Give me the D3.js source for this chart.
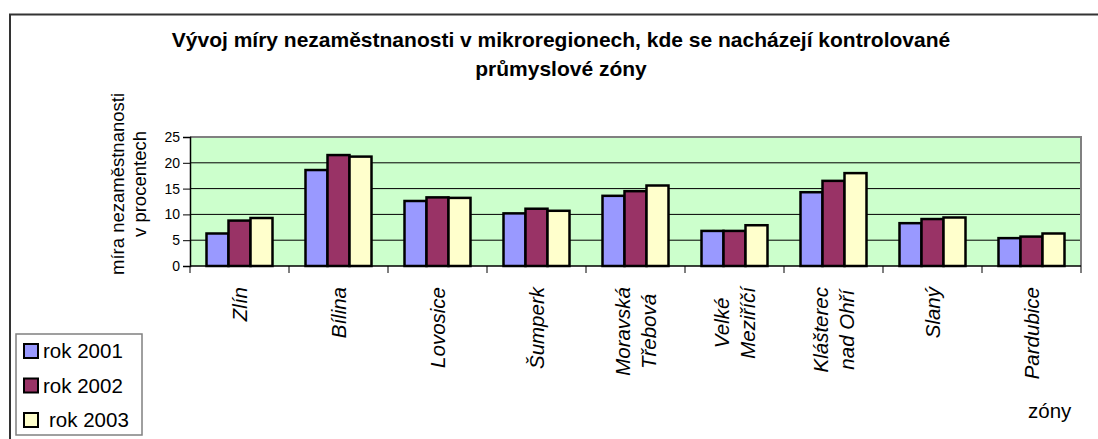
<!DOCTYPE html>
<html>
<head>
<meta charset="utf-8">
<script src="https://cdn.jsdelivr.net/npm/d3@7"></script>
<style>
  body { margin: 0; background: #fff; }
  #chart { width: 1098px; height: 439px; }
  text { font-family: "Liberation Sans", Arial, sans-serif; fill: #000; }
</style>
</head>
<body>
<div id="chart"></div>
<script>
// DATA

const zones = ["Zlín", "Bílina", "Lovosice", "Šumperk", "Moravská Třebová",
    "Velké Meziříčí", "Klášterec nad Ohří", "Slaný", "Pardubice"];
// how each zone label is broken into lines
const zoneLines = [["Zlín"], ["Bílina"], ["Lovosice"], ["Šumperk"], ["Moravská", "Třebová"],
    ["Velké", "Meziříčí"], ["Klášterec", "nad Ohří"], ["Slaný"], ["Pardubice"]];

const years = ["rok 2001", "rok 2002", "rok 2003"];
const rok2001 = [6.3, 18.6, 12.6, 10.2, 13.6, 6.8, 14.3, 8.3, 5.4];
const rok2002 = [8.8, 21.5, 13.3, 11.1, 14.5, 6.8, 16.5, 9.1, 5.7];
const rok2003 = [9.3, 21.2, 13.2, 10.7, 15.6, 7.9, 18.0, 9.4, 6.3];
const yTicks = [0, 5, 10, 15, 20, 25];

const colors = ["#9999ff", "#993366", "#ffffcc"];

// SVG CANVAS

const width = 1098;
const height = 439;
const margin = {top: 137, left: 190, right: 17, bottom: 173};

const svg = d3.select("#chart")
    .append("svg")
    .attr("width", width)
    .attr("height", height);

// outer chart frame (runs off the right and bottom edges)
svg.append("rect")
    .attr("x", 10).attr("y", 14.5)
    .attr("width", 1200).attr("height", 600)
    .attr("fill", "none")
    .attr("stroke", "#333")
    .attr("stroke-width", 2);

// SCALES

const series = [rok2001, rok2002, rok2003];
const table = zones.map(function(z, i) {
    return {zone: z, lines: zoneLines[i], values: series.map(function(s, j) { return {year: years[j], value: s[i]}; })};
});

const x0 = d3.scaleBand()
    .domain(zones)
    .range([margin.left, width - margin.right])
    .paddingInner(1/3)
    .paddingOuter(1/6);

const x1 = d3.scaleBand()
    .domain(years)
    .range([0, x0.bandwidth()]);

const yScale = d3.scaleLinear()
    .domain([0, 25])
    .range([height - margin.bottom, margin.top]);

const colorScale = d3.scaleOrdinal().domain(years).range(colors);

const plotL = margin.left, plotR = width - margin.right;
const plotT = margin.top, plotB = height - margin.bottom;

// PLOT AREA

svg.append("rect")
    .attr("x", plotL).attr("y", plotT)
    .attr("width", plotR - plotL).attr("height", plotB - plotT)
    .attr("fill", "#ccffcc");

// GRIDLINES

svg.append("g")
    .selectAll("line")
    .data(yTicks.filter(function(d) { return d > 0 && d < 25; }))
    .enter()
    .append("line")
        .attr("x1", plotL).attr("x2", plotR)
        .attr("y1", function(d) { return yScale(d); })
        .attr("y2", function(d) { return yScale(d); })
        .attr("stroke", "#000")
        .attr("stroke-width", 1);

// plot border top/right in gray
svg.append("path")
    .attr("d", `M${plotL},${plotT}H${plotR}V${plotB}`)
    .attr("fill", "none")
    .attr("stroke", "#808080")
    .attr("stroke-width", 2);

// BARS

const groups = svg.append("g")
    .selectAll("g")
    .data(table)
    .enter()
    .append("g")
        .attr("transform", function(d) { return `translate(${x0(d.zone)},0)`; });

groups.selectAll("rect")
    .data(function(d) { return d.values; })
    .enter()
    .append("rect")
        .attr("x", function(d) { return x1(d.year); })
        .attr("y", function(d) { return yScale(d.value); })
        .attr("width", x1.bandwidth())
        .attr("height", function(d) { return yScale(0) - yScale(d.value); })
        .attr("fill", function(d) { return colorScale(d.year); })
        .attr("stroke", "#000")
        .attr("stroke-width", 2.5);

// AXES

const yAxis = svg.append("g")
    .attr("transform", `translate(${plotL},0)`)
    .call(d3.axisLeft(yScale).tickValues(yTicks).tickSize(7).tickPadding(3));

yAxis.select(".domain").attr("stroke", "#000").attr("stroke-width", 1.5);
yAxis.selectAll("text")
    .style("font-family", "'Liberation Sans', Arial, sans-serif")
    .style("font-size", "14px");

// x axis: baseline and tick marks at band boundaries
const xAxis = svg.append("g");
xAxis.append("line")
    .attr("x1", plotL).attr("x2", plotR)
    .attr("y1", plotB).attr("y2", plotB)
    .attr("stroke", "#000")
    .attr("stroke-width", 1.5);

const bounds = zones.map(function(z) { return x0(z) - x0.step() * x0.paddingInner() / 2; })
    .concat([plotR]);
xAxis.selectAll(".tick")
    .data(bounds)
    .enter()
    .append("line")
        .attr("x1", function(d) { return d; })
        .attr("x2", function(d) { return d; })
        .attr("y1", plotB)
        .attr("y2", plotB + 7)
        .attr("stroke", "#000")
        .attr("stroke-width", 1);

// ZONE LABELS (rotated, top-aligned under the axis)

const labelTop = 287;
const lineGap = 26;

table.forEach(function(d) {
    const cx = x0(d.zone) + x0.bandwidth() / 2;
    const g = svg.append("g");
    const n = d.lines.length;
    const texts = d.lines.map(function(line) {
        return g.append("text")
            .attr("text-anchor", "middle")
            .style("font-size", "20.5px")
            .style("font-style", "italic")
            .text(line);
    });
    const maxLen = d3.max(texts, function(t) { return t.node().getComputedTextLength(); });
    const cy = labelTop + maxLen / 2;
    texts.forEach(function(t, i) {
        const bx = cx + 7 + (i - (n - 1) / 2) * lineGap;
        t.attr("transform", `translate(${bx},${cy}) rotate(-90)`);
    });
});

// TITLE

const title = ["Vývoj míry nezaměstnanosti v mikroregionech, kde se nacházejí kontrolované",
    "průmyslové zóny"];
svg.append("g")
    .selectAll("text")
    .data(title)
    .enter()
    .append("text")
        .attr("x", 561)
        .attr("y", function(d, i) { return 47 + i * 29; })
        .attr("text-anchor", "middle")
        .style("font-size", "21px")
        .style("font-weight", "bold")
        .text(function(d) { return d; });

// AXIS LABELS

const yTitle = ["míra nezaměstnanosti", "v procentech"];
svg.append("g")
    .selectAll("text")
    .data(yTitle)
    .enter()
    .append("text")
        .attr("transform", function(d, i) { return `translate(${124 + i * 22},184) rotate(-90)`; })
        .attr("text-anchor", "middle")
        .style("font-size", "18.5px")
        .text(function(d) { return d; });

svg.append("text")
    .attr("x", 1028)
    .attr("y", 418)
    .style("font-size", "20.5px")
    .text("zóny");

// LEGEND

const legend = svg.append("g");
legend.append("rect")
    .attr("x", 16).attr("y", 334)
    .attr("width", 126).attr("height", 101)
    .attr("fill", "#fff")
    .attr("stroke", "#808080")
    .attr("stroke-width", 1.5);

const legendItems = legend.selectAll(".item")
    .data(years)
    .enter()
    .append("g")
        .attr("transform", function(d, i) { return `translate(0,${351 + i * 34.5})`; });

legendItems.append("rect")
    .attr("x", 24).attr("y", -7)
    .attr("width", 14).attr("height", 14)
    .attr("fill", function(d) { return colorScale(d); })
    .attr("stroke", "#000")
    .attr("stroke-width", 2);

legendItems.append("text")
    .attr("x", function(d, i) { return i === 2 ? 49 : 43; })
    .attr("y", 7)
    .style("font-size", "20.5px")
    .text(function(d) { return d; });
</script>
</body>
</html>
